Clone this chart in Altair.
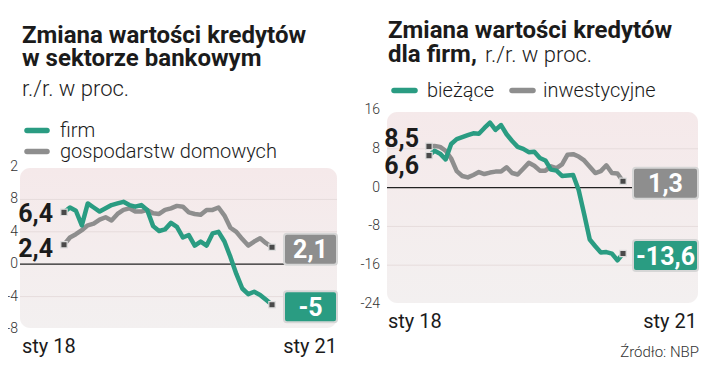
import altair as alt
import pandas as pd

# ---------------- data ----------------
months = [f"{y}-{m:02d}" for y in (2018, 2019, 2020) for m in range(1, 13)]

firm = [6.4, 7.0, 6.6, 4.8, 7.5, 7.0, 6.5, 6.9, 7.3, 7.5, 7.7, 7.3, 7.1, 7.3, 6.7, 4.7,
        4.1, 4.3, 5.1, 4.6, 3.3, 3.6, 2.3, 2.8, 2.3, 3.8, 4.0, 2.8, 0.9, -1.2, -3.0,
        -3.7, -3.4, -3.8, -4.4, -5.0]
gospodarstwa = [2.4, 3.3, 3.7, 4.2, 4.8, 5.0, 5.5, 5.8, 5.4, 6.2, 6.7, 6.9, 6.5, 6.5, 6.7,
                6.3, 6.2, 6.7, 6.9, 7.2, 7.1, 6.4, 6.2, 6.1, 6.7, 6.7, 7.0, 6.0, 4.5, 4.0,
                3.1, 2.3, 2.8, 3.2, 2.6, 2.1]
biezace = [6.6, 7.6, 7.0, 5.8, 9.0, 10.0, 10.4, 10.8, 11.2, 11.1, 12.3, 13.4, 11.9, 12.9,
           11.0, 9.6, 8.4, 8.0, 7.3, 7.4, 6.1, 5.6, 3.7, 3.5, 2.4, 2.5, 2.6, -0.5, -5.5,
           -10.7, -12.1, -13.4, -13.3, -13.6, -15.0, -13.6]
inwestycyjne = [8.5, 8.6, 8.4, 7.6, 6.0, 3.4, 2.4, 2.1, 2.6, 3.2, 2.8, 3.1, 3.3, 3.3, 4.2,
                3.0, 2.7, 3.9, 5.1, 4.5, 3.5, 3.5, 4.4, 4.0, 4.8, 6.8, 6.9, 6.4, 5.6, 4.3,
                3.0, 3.4, 4.6, 3.0, 2.9, 1.3]

left_ticks = [12, 8, 4, 0, -4, -8]
right_ticks = [16, 8, 0, -8, -16, -24]
x_labels = ["sty 18", "sty 21"]

GREEN = "#2a9c82"
GRAY = "#8e8e8e"
FONT = "Roboto"
INK = "#1b1b1b"

BG_GRAD = alt.LinearGradient(
    gradient="linear",
    stops=[alt.GradientStop(color="#f5e9ea", offset=0),
           alt.GradientStop(color="#f3f0f0", offset=1)],
    x1=0, x2=0, y1=0, y2=1,
)

one = pd.DataFrame({"a": [0]})


def lbl(v):
    return f"{v:g}".replace(".", ",")


def txt(s, x, y, size, weight="normal", align="left", color=INK, baseline="alphabetic"):
    return alt.Chart(one).mark_text(
        text=s, font=FONT, fontSize=size, fontWeight=weight, align=align,
        baseline=baseline, color=color,
    ).encode(x=alt.value(x), y=alt.value(y))


def swatch(x0, x1, y, color):
    return alt.Chart(one).mark_rule(color=color, strokeWidth=5.5, strokeCap="round").encode(
        x=alt.value(x0), x2=alt.value(x1), y=alt.value(y))


def panel(series, ticks, xr, yr, bg, tick_x, start_x, box_cx, box_w):
    xs = alt.Scale(domain=[0, len(months) - 1], range=xr, nice=False, zero=False)
    ys = alt.Scale(domain=[min(ticks), max(ticks)], range=yr, nice=False, zero=False)
    X = alt.X("i:Q", scale=xs, axis=None)
    Y = alt.Y("v:Q", scale=ys, axis=None)
    bx0, bx1, by0, by1 = bg
    layers = [
        alt.Chart(one).mark_rect(cornerRadius=10, fill=BG_GRAD).encode(
            x=alt.value(bx0), x2=alt.value(bx1), y=alt.value(by0), y2=alt.value(by1))
    ]
    tdf = pd.DataFrame({"v": ticks, "t": [str(t) for t in ticks]})
    inner = tdf[(tdf.v != 0) & (tdf.v != max(ticks)) & (tdf.v != min(ticks))]
    layers.append(alt.Chart(inner).mark_rule(color="#e6dcdc", strokeWidth=1).encode(
        y=Y, x=alt.value(bx0), x2=alt.value(bx1)))
    layers.append(alt.Chart(tdf[tdf.v == 0]).mark_rule(color="#222222", strokeWidth=1.2).encode(
        y=Y, x=alt.value(bx0), x2=alt.value(bx1)))
    layers.append(alt.Chart(tdf).mark_text(
        font=FONT, fontSize=14, fontWeight=300, align="right", baseline="middle",
        color="#333333").encode(y=Y, x=alt.value(tick_x), text="t:N"))

    for vals, color, sdy in series:
        df = pd.DataFrame({"i": list(range(len(vals))), "v": vals,
                           "t": [lbl(v) for v in vals]})
        layers.append(alt.Chart(df).mark_line(
            color=color, strokeWidth=4.5, strokeJoin="round", strokeCap="round").encode(x=X, y=Y))
    for vals, color, sdy in series:
        df = pd.DataFrame({"i": list(range(len(vals))), "v": vals,
                           "t": [lbl(v) for v in vals]})
        ends = df.iloc[[0, -1]]
        first = df.iloc[[0]]
        last = df.iloc[[-1]]
        layers.append(alt.Chart(ends).mark_square(
            size=40, color="#4a4a4a", stroke="#dddddd", strokeWidth=1.2, opacity=1).encode(x=X, y=Y))
        layers.append(alt.Chart(first).mark_text(
            font=FONT, fontSize=25, fontWeight="bold", align="right", baseline="middle",
            color=INK, dy=sdy).encode(x=alt.value(start_x), y=Y, text="t:N"))
        layers.append(alt.Chart(last).mark_rect(
            width=box_w, height=31, cornerRadius=3, color=color, stroke="#d6d6d6",
            strokeWidth=2, yOffset=2).encode(x=alt.value(box_cx), y=Y))
        layers.append(alt.Chart(last).mark_text(
            font=FONT, fontSize=25, fontWeight="bold", align="center", baseline="middle",
            color="white", dy=3).encode(x=alt.value(box_cx), y=Y, text="t:N"))
    return layers


# ---------------- left panel ----------------
left = panel(
    series=[(gospodarstwa, GRAY, 4), (firm, GREEN, 2)],
    ticks=left_ticks, xr=[56, 264], yr=[321, 159], bg=(12, 329, 160, 320),
    tick_x=10, start_x=45, box_cx=302.5, box_w=53,
)
left += [
    txt("Zmiana wartości kredytów", 14, 35, 24, "bold"),
    txt("w sektorze bankowym", 14, 58, 24, "bold"),
    txt("r./r. w proc.", 14, 88, 22, 300),
    swatch(19, 39, 122.5, GREEN),
    txt("firm", 52, 129, 20, 300),
    swatch(19, 39, 143.5, GRAY),
    txt("gospodarstw domowych", 52, 150, 20, 300),
    txt(x_labels[0], 14, 345, 20),
    txt(x_labels[1], 329, 345, 20, align="right"),
]

# ---------------- right panel ----------------
right = panel(
    series=[(inwestycyjne, GRAY, -7), (biezace, GREEN, 10)],
    ticks=right_ticks, xr=[421, 615], yr=[296, 102], bg=(379, 690, 104, 295),
    tick_x=372, start_x=411, box_cx=657.5, box_w=65,
)
right += [
    txt("Zmiana wartości kredytów", 380, 30, 24, "bold"),
    txt("dla firm,", 380, 54, 24, "bold"),
    txt("r./r. w proc.", 477, 54, 22, 300),
    swatch(386, 407, 82.5, GREEN),
    txt("bieżące", 419, 89, 20, 300),
    swatch(504, 525, 82.5, GRAY),
    txt("inwestycyjne", 535, 89, 20, 300),
    txt(x_labels[0], 380, 320, 20),
    txt(x_labels[1], 689, 320, 20, align="right"),
    txt("Źródło: NBP", 691, 349, 15, 300, align="right", color="#333333"),
]

chart = alt.layer(*(left + right)).resolve_scale(
    x="independent", y="independent"
).properties(
    width=704, height=356, autosize="none", padding=0, background="white"
).configure_view(stroke=None)

chart.save("out.html", embed_options={"renderer": "svg", "actions": False})
